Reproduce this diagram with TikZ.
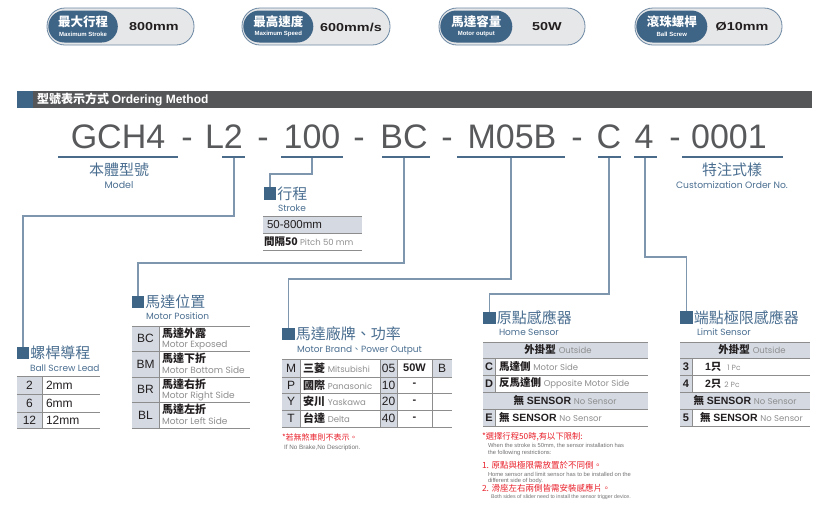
\documentclass[tikz,border=0pt]{standalone}
\usepackage{fontspec}
\setmainfont{Liberation Sans}
\newfontfamily\cjk{Noto Sans CJK TC}
\newfontfamily\geo{Poppins}
\newfontfamily\techfont[FakeStretch=1.25]{Liberation Sans}
\newcommand\fsz[1]{\fontsize{#1}{#1}\selectfont}
\definecolor{dblue}{HTML}{3E6486}
\definecolor{pillbg}{HTML}{E6E7E8}
\definecolor{pillbd}{HTML}{6B87A3}
\definecolor{hgray}{HTML}{555658}
\definecolor{codetxt}{HTML}{58595B}
\definecolor{ulc}{HTML}{4B6B8B}
\definecolor{cline}{HTML}{7E96AE}
\definecolor{hblue}{HTML}{4A6E90}
\definecolor{tgray}{HTML}{D4D9E2}
\definecolor{tline}{HTML}{8D8D8D}
\definecolor{gtxt}{HTML}{8E8E8E}
\definecolor{btxt}{HTML}{231F20}
\definecolor{rtxt}{HTML}{E8202A}
\begin{document}
\begin{tikzpicture}[x=1pt,y=-1pt,
  txt/.style={inner sep=0pt,outer sep=0pt},
  pillout/.style={draw=pillbd,line width=0.8pt,fill=pillbg,rounded corners=18pt,minimum height=37pt,inner sep=0pt},
  pillin/.style={fill=dblue,rounded corners=16pt,minimum height=32pt,inner sep=0pt,anchor=west},
  pillcn/.style={txt,text=white,font=\cjk\bfseries\fsz{12.5}},
  pillen/.style={txt,text=white,font=\bfseries\fsz{6}},
  pillval/.style={txt,text=btxt,font=\techfont\bfseries\fsz{11.5}},
  codeseg/.style={txt,anchor=base,text=codetxt,font=\fsz{34}},
  ul/.style={draw=ulc,line width=1.4pt},
  conn/.style={draw=cline,line width=1.3pt},
  sqbox/.style={fill=dblue,minimum size=12.5pt,inner sep=0pt},
  head/.style={txt,anchor=west,text=hblue,font=\cjk\fsz{15}},
  subh/.style={txt,anchor=west,text=hblue,font=\geo\fsz{9}},
  rule/.style={draw=tline,line width=0.8pt},
  tcode/.style={txt,text=btxt,font=\fsz{12}},
  tcn/.style={txt,anchor=west,text=btxt,font=\cjk\bfseries\fsz{11}},
  ten/.style={txt,anchor=west,text=gtxt,font=\geo\fsz{9}},
  red/.style={txt,anchor=west,text=rtxt,font=\cjk\fsz{8.3}},
  note/.style={txt,anchor=west,text=gtxt!80!black,font=\fsz{5.8}}
]
\useasboundingbox (0,0) rectangle (825,507);

% ---------- badges ----------
\node[pillout,minimum width=147pt] (b1) at (120.5,26.5) {};
\node[pillin,minimum width=69.5pt] (b1i) at ([xshift=1.5pt]b1.west) {};
\node[pillcn] (b1c) at ([yshift=4.5pt]b1i.center) {最大行程};
\node[pillen] (b1e) at ([yshift=-7.5pt]b1i.center) {Maximum Stroke};
\node[pillval] (b1v) at (154,27) {800mm};

\node[pillout,minimum width=148pt] (b2) at (316,26.5) {};
\node[pillin,minimum width=70pt] (b2i) at ([xshift=1.5pt]b2.west) {};
\node[pillcn] (b2c) at ([yshift=4.5pt]b2i.center) {最高速度};
\node[pillen] (b2e) at ([yshift=-7.5pt]b2i.center) {Maximum Speed};
\node[pillval] (b2v) at (351,27) {600mm/s};

\node[pillout,minimum width=146pt] (b3) at (512,26.5) {};
\node[pillin,minimum width=72pt] (b3i) at ([xshift=1.5pt]b3.west) {};
\node[pillcn] (b3c) at ([yshift=4.5pt]b3i.center) {馬達容量};
\node[pillen] (b3e) at ([yshift=-7.5pt]b3i.center) {Motor output};
\node[pillval] (b3v) at (547,27) {50W};

\node[pillout,minimum width=147pt] (b4) at (708.5,26.5) {};
\node[pillin,minimum width=71pt] (b4i) at ([xshift=1.5pt]b4.west) {};
\node[pillcn] (b4c) at ([yshift=4.5pt]b4i.center) {滾珠螺桿};
\node[pillen] (b4e) at ([yshift=-7.5pt]b4i.center) {Ball Screw};
\node[pillval] (b4v) at (742,27) {Ø10mm};

% ---------- header ----------
\fill[hgray] (17,91) rectangle (812,108);
\fill[dblue] (17,91) rectangle (33,108);
\node[txt,anchor=west,text=white] (hdr) at (37,99.5) {{\cjk\bfseries\fsz{12}型號表示方式} {\bfseries\fsz{12}Ordering Method}};

% ---------- code line ----------
\node[codeseg] (cGCH) at (118,148) {GCH4};
\node[codeseg] (d1) at (187,148) {-};
\node[codeseg] (cL2) at (224,148) {L2};
\node[codeseg] (d2) at (263,148) {-};
\node[codeseg] (c100) at (312,148) {100};
\node[codeseg] (d3) at (359,148) {-};
\node[codeseg] (cBC) at (404,148) {BC};
\node[codeseg] (d4) at (447,148) {-};
\node[codeseg] (cM) at (512,148) {M05B};
\node[codeseg] (d5) at (577,148) {-};
\node[codeseg] (cC) at (609,148) {C};
\node[codeseg] (c4) at (644,148) {4};
\node[codeseg] (d6) at (675,148) {-};
\node[codeseg] (c0001) at (729,148) {0001};

\draw[ul] (58,157) -- (178,157);
\draw[ul] (222,157) -- (245,157);
\draw[ul] (281,157) -- (343,157);
\draw[ul] (382,157) -- (430,157);
\draw[ul] (457,157) -- (565,157);
\draw[ul] (598,157) -- (621,157);
\draw[ul] (634,157) -- (657,157);
\draw[ul] (682,157) -- (783,157);

\coordinate (uL2) at (234,157.5);
\coordinate (u100) at (312,157.5);
\coordinate (uBC) at (404,157.5);
\coordinate (uM) at (511,157.5);
\coordinate (uC) at (609,157.5);
\coordinate (u4) at (645,157.5);

\node[txt,text=hblue,font=\cjk\fsz{15}] (lmodel) at (119,170) {本體型號};
\node[txt,text=hblue,font=\geo\fsz{9.5}] (lmodele) at (119,185) {Model};
\node[txt,text=hblue,font=\cjk\fsz{15}] (lcust) at (732,170) {特注式樣};
\node[txt,text=hblue,font=\geo\fsz{9.2}] (lcuste) at (732,185) {Customization Order No.};

% ---------- squares & headings ----------
\node[sqbox] (sqLead) at (23,353) {};
\node[head] (hLead) at ([xshift=1pt]sqLead.east) {螺桿導程};
\node[subh] (sLead) at (30,368) {Ball Screw Lead};

\node[sqbox] (sqStroke) at (270,193.5) {};
\node[head] (hStroke) at ([xshift=1pt]sqStroke.east) {行程};
\node[subh] (sStroke) at (278,208) {Stroke};

\node[sqbox] (sqPos) at (138,302) {};
\node[head] (hPos) at ([xshift=1pt]sqPos.east) {馬達位置};
\node[subh] (sPos) at (146,316) {Motor Position};

\node[sqbox] (sqBrand) at (288.5,334) {};
\node[head] (hBrand) at ([xshift=1pt]sqBrand.east) {馬達廠牌、功率};
\node[subh] (sBrand) at (297,350) {Motor Brand{\cjk 、}Power Output};

\node[sqbox] (sqHome) at (489.5,318) {};
\node[head] (hHome) at ([xshift=1pt]sqHome.east) {原點感應器};
\node[subh] (sHome) at (499,332) {Home Sensor};

\node[sqbox] (sqLimit) at (686.5,317.5) {};
\node[head] (hLimit) at ([xshift=1pt]sqLimit.east) {端點極限感應器};
\node[subh] (sLimit) at (697,332) {Limit Sensor};

% ---------- connectors ----------
\draw[conn] (uL2) -- ++(0,58.5) -| (sqLead.north);
\draw[conn] (u100) -- ++(0,16.5) -| (sqStroke.north);
\draw[conn] (uBC) -- ++(0,105.5) -| (sqPos.north);
\draw[conn] (uM) -- ++(0,121.5) -| (sqBrand.north);
\draw[conn] (uC) -- ++(0,136.5) -| (sqHome.north);
\draw[conn] (u4) -- ++(0,99.5) -| (sqLimit.north);

% ---------- stroke table ----------
\fill[tgray] (263,216) rectangle (362,233);
\draw[rule] (263,216) -- (362,216);
\draw[rule] (263,233) -- (362,233);
\draw[rule] (263,250) -- (362,250);
\node[txt,anchor=west,text=btxt,font=\fsz{11.5}] (st1) at (267,224.5) {50-800mm};
\node[txt,anchor=west,text=btxt] (st2) at (264,241.5) {{\cjk\bfseries\fsz{10.5}間隔50}{\geo\color{gtxt}\fsz{8.5} Pitch 50 mm}};

% ---------- lead table ----------
\fill[tgray] (17,376) rectangle (42,428);
\foreach \yy in {376,394,412,428} \draw[rule] (17,\yy) -- (100,\yy);
\draw[rule] (42,376) -- (42,428);
\node[tcode] (l1c) at (29.5,385) {2};
\node[tcode] (l2c) at (29.5,403) {6};
\node[tcode] (l3c) at (29.5,420) {12};
\node[tcode,anchor=west] (l1v) at (46,385) {2mm};
\node[tcode,anchor=west] (l2v) at (46,403) {6mm};
\node[tcode,anchor=west] (l3v) at (46,420) {12mm};

% ---------- motor position table ----------
\fill[tgray] (132,326) rectangle (159,428);
\foreach \yy in {326,351,377,402,428} \draw[rule] (132,\yy) -- (250,\yy);
\draw[rule] (159,326) -- (159,428);
\node[tcode] (p1c) at (145.5,338.5) {BC};
\node[tcode] (p2c) at (145.5,364) {BM};
\node[tcode] (p3c) at (145.5,389.5) {BR};
\node[tcode] (p4c) at (145.5,415) {BL};
\node[tcn] (p1n) at (162,333.5) {馬達外露};
\node[ten] (p1e) at (162,345) {Motor Exposed};
\node[tcn] (p2n) at (162,358.5) {馬達下折};
\node[ten] (p2e) at (162,370) {Motor Bottom Side};
\node[tcn] (p3n) at (162,384.5) {馬達右折};
\node[ten] (p3e) at (162,396) {Motor Right Side};
\node[tcn] (p4n) at (162,409.5) {馬達左折};
\node[ten] (p4e) at (162,421) {Motor Left Side};

% ---------- brand table ----------
\fill[tgray] (282,359) rectangle (300,427);
\fill[tgray] (380,359) rectangle (397,427);
\fill[tgray] (432,359) rectangle (452,377);
\foreach \yy in {359,377,393,410,427} \draw[rule] (282,\yy) -- (452,\yy);
\foreach \xx in {300,380,397,432} \draw[rule] (\xx,359) -- (\xx,427);
\node[tcode] (m1c) at (291,368) {M};
\node[tcode] (m2c) at (291,385) {P};
\node[tcode] (m3c) at (291,401.5) {Y};
\node[tcode] (m4c) at (291,418.5) {T};
\node[txt,anchor=west,text=btxt] (m1n) at (303,368) {{\cjk\bfseries\fsz{11}三菱} {\geo\color{gtxt}\fsz{8.5}Mitsubishi}};
\node[txt,anchor=west,text=btxt] (m2n) at (303,385) {{\cjk\bfseries\fsz{11}國際} {\geo\color{gtxt}\fsz{8.5}Panasonic}};
\node[txt,anchor=west,text=btxt] (m3n) at (303,401.5) {{\cjk\bfseries\fsz{11}安川} {\geo\color{gtxt}\fsz{8.5}Yaskawa}};
\node[txt,anchor=west,text=btxt] (m4n) at (303,418.5) {{\cjk\bfseries\fsz{11}台達} {\geo\color{gtxt}\fsz{8.5}Delta}};
\node[tcode] (w1c) at (388.5,368) {05};
\node[tcode] (w2c) at (388.5,385) {10};
\node[tcode] (w3c) at (388.5,401.5) {20};
\node[tcode] (w4c) at (388.5,418.5) {40};
\node[txt,text=btxt,font=\bfseries\fsz{11}] (w1v) at (414.5,368) {50W};
\node[txt,text=btxt,font=\bfseries\fsz{11}] (w2v) at (414.5,385) {-};
\node[txt,text=btxt,font=\bfseries\fsz{11}] (w3v) at (414.5,401.5) {-};
\node[txt,text=btxt,font=\bfseries\fsz{11}] (w4v) at (414.5,418.5) {-};
\node[tcode] (brk) at (442,368) {B};
\node[red,font=\cjk\fsz{8}] (bn1) at (282,437) {*若無煞車則不表示。};
\node[note,font=\fsz{6.3}] (bn2) at (284,447.5) {If No Brake,No Description.};

% ---------- home sensor table ----------
\fill[tgray] (483,342) rectangle (648,358);
\fill[tgray] (483,392) rectangle (648,409);
\fill[tgray] (483,358) rectangle (495,392);
\fill[tgray] (483,409) rectangle (495,426);
\foreach \yy in {342,358,375,392,409,426} \draw[rule] (483,\yy) -- (648,\yy);
\draw[rule] (495,358) -- (495,392);
\draw[rule] (495,409) -- (495,426);
\node[txt,text=btxt] (h0) at (558,350) {{\cjk\bfseries\fsz{10.5}外掛型} {\geo\color{gtxt}\fsz{8.5}Outside}};
\node[tcode,font=\bfseries\fsz{11}] (h1c) at (489,366.5) {C};
\node[txt,anchor=west,text=btxt] (h1n) at (499,366.5) {{\cjk\bfseries\fsz{10.5}馬達側} {\geo\color{gtxt}\fsz{8.5}Motor Side}};
\node[tcode,font=\bfseries\fsz{11}] (h2c) at (489,383.5) {D};
\node[txt,anchor=west,text=btxt] (h2n) at (499,383.5) {{\cjk\bfseries\fsz{10.5}反馬達側} {\geo\color{gtxt}\fsz{8.5}Opposite Motor Side}};
\node[txt,text=btxt] (h3) at (565,400.5) {{\cjk\bfseries\fsz{10.5}無} {\bfseries\fsz{10.5}SENSOR} {\geo\color{gtxt}\fsz{8.5}No Sensor}};
\node[tcode,font=\bfseries\fsz{11}] (h4c) at (489,417.5) {E};
\node[txt,anchor=west,text=btxt] (h4n) at (499,417.5) {{\cjk\bfseries\fsz{10.5}無} {\bfseries\fsz{10.5}SENSOR} {\geo\color{gtxt}\fsz{8.5}No Sensor}};

% ---------- limit sensor table ----------
\fill[tgray] (680,342) rectangle (810,358);
\fill[tgray] (680,392) rectangle (810,409);
\fill[tgray] (680,358) rectangle (692,392);
\fill[tgray] (680,409) rectangle (692,426);
\foreach \yy in {342,358,375,392,409,426} \draw[rule] (680,\yy) -- (810,\yy);
\draw[rule] (692,358) -- (692,392);
\draw[rule] (692,409) -- (692,426);
\node[txt,text=btxt] (k0) at (752,350) {{\cjk\bfseries\fsz{10.5}外掛型} {\geo\color{gtxt}\fsz{8.5}Outside}};
\node[tcode,font=\bfseries\fsz{11}] (k1c) at (686,366.5) {3};
\node[txt,anchor=west,text=btxt] (k1n) at (705,366.5) {{\bfseries\fsz{10.5}1}{\cjk\bfseries\fsz{10.5}只}\hspace{6pt}{\geo\color{gtxt}\fsz{7.5}1 Pc}};
\node[tcode,font=\bfseries\fsz{11}] (k2c) at (686,383.5) {4};
\node[txt,anchor=west,text=btxt] (k2n) at (705,383.5) {{\bfseries\fsz{10.5}2}{\cjk\bfseries\fsz{10.5}只}\hspace{3pt}{\geo\color{gtxt}\fsz{7.5}2 Pc}};
\node[txt,text=btxt] (k3) at (745,400.5) {{\cjk\bfseries\fsz{10.5}無} {\bfseries\fsz{10.5}SENSOR} {\geo\color{gtxt}\fsz{8.5}No Sensor}};
\node[tcode,font=\bfseries\fsz{11}] (k4c) at (686,417.5) {5};
\node[txt,anchor=west,text=btxt] (k4n) at (700,417.5) {{\cjk\bfseries\fsz{10.5}無} {\bfseries\fsz{10.5}SENSOR} {\geo\color{gtxt}\fsz{8.5}No Sensor}};

% ---------- red notes ----------
\node[red] (r0) at (482,437) {*選擇行程50時,有以下限制:};
\node[note] (r0a) at (488,446) {When the stroke is 50mm, the sensor installation has};
\node[note] (r0b) at (488,453) {the following restrictions:};
\node[red,font=\cjk\fsz{8.5}] (r1) at (482,465) {1. 原點與極限需放置於不同側。};
\node[note] (r1a) at (488,474.5) {Home sensor and limit sensor has to be installed on the};
\node[note] (r1b) at (488,481) {different side of body.};
\node[red,font=\cjk\fsz{8.5}] (r2) at (482,488) {2. 滑座左右兩側皆需安裝感應片。};
\node[note,font=\fsz{5.3}] (r2a) at (491,497) {Both sides of slider need to install the sensor trigger device.};
\end{tikzpicture}
\end{document}
